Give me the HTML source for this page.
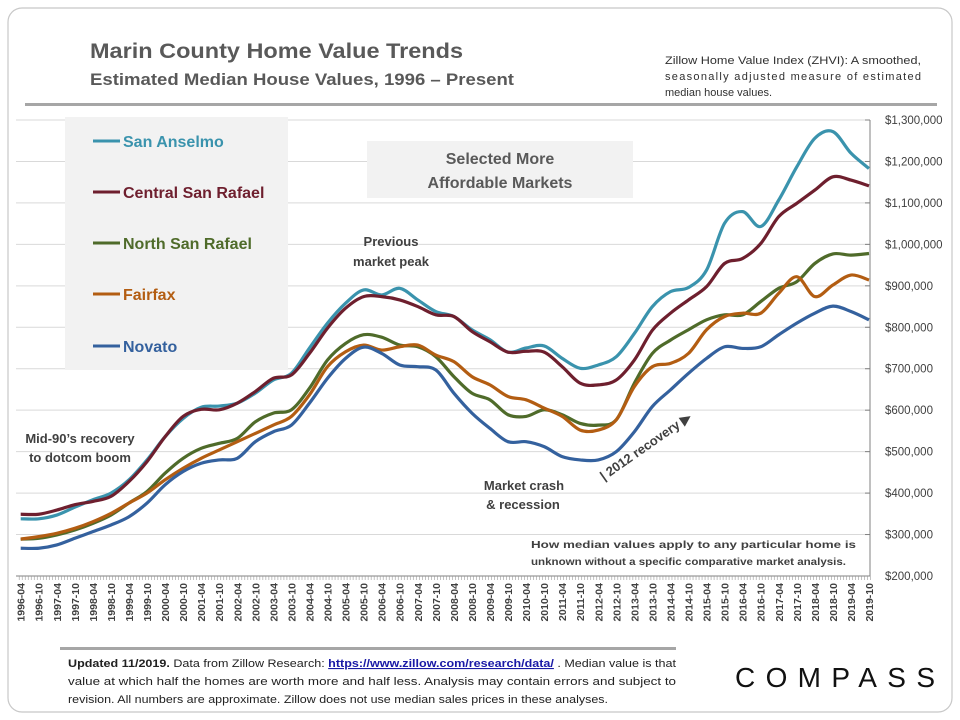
<!DOCTYPE html>
<html><head><meta charset="utf-8"><style>
body{margin:0;background:#fff;}
svg{display:block;font-family:"Liberation Sans",sans-serif;}
</style></head><body>
<svg id="chart" width="960" height="720" viewBox="0 0 960 720">
<rect x="8" y="8" width="944" height="704" rx="14" fill="#fff" stroke="#c8c8c8" stroke-width="1.2"/>
<text x="90" y="58" font-size="21" font-weight="bold" fill="#595959" textLength="373" lengthAdjust="spacingAndGlyphs">Marin County Home Value Trends</text>
<text x="90" y="85" font-size="16.5" font-weight="bold" fill="#595959" textLength="424" lengthAdjust="spacingAndGlyphs">Estimated Median House Values, 1996 – Present</text>
<g font-size="11" fill="#303030">
<text x="665" y="64" textLength="256" lengthAdjust="spacingAndGlyphs">Zillow Home Value Index (ZHVI): A smoothed,</text>
<text x="665" y="80" textLength="256" lengthAdjust="spacing">seasonally adjusted measure of estimated</text>
<text x="665" y="96">median house values.</text>
</g>
<rect x="25" y="103" width="912" height="3" fill="#a6a6a6"/>
<g id="grid"></g>
<rect x="65" y="117" width="223" height="253" fill="#f2f2f2"/>
<rect x="367" y="141" width="266" height="57" fill="#f2f2f2"/>
<text x="500" y="164" font-size="16" font-weight="bold" fill="#595959" text-anchor="middle">Selected More</text>
<text x="500" y="188" font-size="16" font-weight="bold" fill="#595959" text-anchor="middle">Affordable Markets</text>
<g id="legend"></g>
<g id="series"></g>
<g id="axes"></g>
<g font-size="13" font-weight="bold" fill="#404040" text-anchor="middle">
<text x="391" y="246">Previous</text>
<text x="391" y="266">market peak</text>
<text x="80" y="443">Mid-90’s recovery</text>
<text x="80" y="462">to dotcom boom</text>
<text x="524" y="490">Market crash</text>
<text x="523" y="509">&amp; recession</text>
<text transform="translate(648,450) rotate(-35)" text-anchor="middle">| 2012 recovery ▶</text>
</g>
<g font-size="10.5" font-weight="bold" fill="#404040">
<text x="531" y="548" textLength="325" lengthAdjust="spacingAndGlyphs">How median values apply to any particular home is</text>
<text x="531" y="565" textLength="315" lengthAdjust="spacingAndGlyphs">unknown without a specific comparative market analysis.</text>
</g>
<rect x="60" y="647" width="616" height="3" fill="#a6a6a6"/>
<g font-size="11" fill="#222">
<text x="68" y="667" textLength="608" lengthAdjust="spacingAndGlyphs"><tspan font-weight="bold">Updated 11/2019.</tspan> Data from Zillow Research: <tspan fill="#1a1aa6" text-decoration="underline" font-weight="bold">https://www.zillow.com/research/data/</tspan> . Median value is that</text>
<text x="68" y="685" textLength="608" lengthAdjust="spacingAndGlyphs">value at which half the homes are worth more and half less. Analysis may contain errors and subject to</text>
<text x="68" y="703" textLength="540" lengthAdjust="spacingAndGlyphs">revision. All numbers are approximate. Zillow does not use median sales prices in these analyses.</text>
</g>
<text x="735" y="687" font-size="28" font-weight="300" fill="#111" textLength="200" lengthAdjust="spacing">COMPASS</text>
</svg>
<script>
const tickLabels = ["1996-04","1996-10","1997-04","1997-10","1998-04","1998-10","1999-04","1999-10","2000-04","2000-10","2001-04","2001-10","2002-04","2002-10","2003-04","2003-10","2004-04","2004-10","2005-04","2005-10","2006-04","2006-10","2007-04","2007-10","2008-04","2008-10","2009-04","2009-10","2010-04","2010-10","2011-04","2011-10","2012-04","2012-10","2013-04","2013-10","2014-04","2014-10","2015-04","2015-10","2016-04","2016-10","2017-04","2017-10","2018-04","2018-10","2019-04","2019-10"];
const yTicks = [200000,300000,400000,500000,600000,700000,800000,900000,1000000,1100000,1200000,1300000];
const seriesNames = ["San Anselmo","Central San Rafael","North San Rafael","Fairfax","Novato"];
const sanAnselmo = [338,338,347,366,384,400,432,480,536,580,607,610,617,641,673,689,750,810,858,890,878,894,866,838,826,794,770,740,750,755,725,701,709,729,785,850,886,896,938,1051,1079,1043,1107,1187,1256,1272,1220,1183];
const centralSanRafael = [349,349,359,372,380,392,428,476,536,585,602,601,617,645,677,685,737,798,846,874,874,866,850,830,826,790,765,740,742,740,705,665,661,673,721,793,834,866,898,954,966,1002,1067,1099,1131,1163,1155,1141];
const northSanRafael = [289,291,299,311,327,347,376,404,448,484,508,520,532,572,593,601,653,721,761,782,776,757,753,729,681,641,625,589,585,601,589,568,564,577,665,737,769,794,818,830,830,862,894,910,954,977,974,978];
const fairfax = [289,295,303,315,331,351,376,400,432,460,484,504,524,544,564,585,637,705,741,757,745,753,757,733,717,681,661,633,625,605,585,552,552,577,657,705,713,737,794,826,834,834,882,922,874,902,926,914];
const novato = [267,267,275,291,307,323,343,376,420,452,472,480,484,524,548,564,617,677,725,752,737,709,705,697,641,593,556,524,524,512,488,480,480,500,548,609,649,689,725,753,749,753,782,810,834,851,838,818];
const seriesData = [sanAnselmo,centralSanRafael,northSanRafael,fairfax,novato];
const colors = ["#3a93ad","#6e1f2e","#4f6b2a","#b35d12","#34619e"];

const NS="http://www.w3.org/2000/svg";
const X0=20.7, X1=869, Y0=576, Y1=120, VMIN=200000, VMAX=1300000;
const xScale=i=>X0+(X1-X0)*i/(tickLabels.length-1);
const yScale=v=>Y0-(Y0-Y1)*(v-VMIN)/(VMAX-VMIN);
function mk(tag,attrs,parent){const e=document.createElementNS(NS,tag);for(const k in attrs)e.setAttribute(k,attrs[k]);parent.appendChild(e);return e;}

const grid=document.getElementById('grid');
yTicks.forEach(v=>{
  const l=mk('line',{x1:16,x2:870,y1:yScale(v),y2:yScale(v),stroke:'#d9d9d9','stroke-width':1},grid);
  
  
});
const axes=document.getElementById('axes');
const ya=mk('line',{x1:870,x2:870,y1:Y1,y2:Y0,stroke:'#808080','stroke-width':1},axes);


yTicks.forEach(v=>{
  mk('line',{x1:865,x2:870,y1:yScale(v),y2:yScale(v),stroke:'#808080'},axes);
  const t=mk('text',{x:885,y:yScale(v)+4,'font-size':11.5,fill:'#404040'},axes);
  t.textContent='$'+v.toLocaleString('en-US');
  
  
});
const xa=mk('line',{x1:16,x2:870,y1:Y0,y2:Y0,stroke:'#808080'},axes);


const months=(tickLabels.length-1)*6;
for(let m=0;m<=months+1;m++){
  const x=X0-1.5+(X1-X0)*m/months;
  mk('line',{x1:x,x2:x,y1:Y0,y2:Y0+4,stroke:'#999','stroke-width':0.6},axes);
}
tickLabels.forEach((lab,i)=>{
  const x=xScale(i)+4;
  const t=mk('text',{transform:`translate(${x},583) rotate(-90)`,'text-anchor':'end','font-size':10.5,'font-weight':'bold',fill:'#404040'},axes);
  t.textContent=lab;
  
  
});
const sg=document.getElementById('series');
seriesData.forEach((d,s)=>{
  const pts=d.map((v,i)=>[xScale(i),yScale(v*1000)]);
  let p='M'+pts[0][0]+','+pts[0][1];
  for(let i=1;i<pts.length;i++){
    const p0=pts[Math.max(0,i-2)],p1=pts[i-1],p2=pts[i],p3=pts[Math.min(pts.length-1,i+1)];
    const c1=[p1[0]+(p2[0]-p0[0])/6,p1[1]+(p2[1]-p0[1])/6];
    const c2=[p2[0]-(p3[0]-p1[0])/6,p2[1]-(p3[1]-p1[1])/6];
    p+=`C${c1[0]},${c1[1]} ${c2[0]},${c2[1]} ${p2[0]},${p2[1]}`;
  }
  const path=mk('path',{d:p,fill:'none',stroke:colors[s],'stroke-width':3.2,'stroke-linejoin':'round'},sg);
  
  
});
const lg=document.getElementById('legend');
const ly=[141,192,243,294,346];
seriesNames.forEach((n,s)=>{
  const g=mk('g',{},lg);
  
  
  mk('line',{x1:93,x2:120,y1:ly[s],y2:ly[s],stroke:colors[s],'stroke-width':3},g);
  const t=mk('text',{x:123,y:ly[s]+6,'font-size':16,'font-weight':'bold',fill:colors[s]},g);
  t.textContent=n;
});
</script>
</body></html>
